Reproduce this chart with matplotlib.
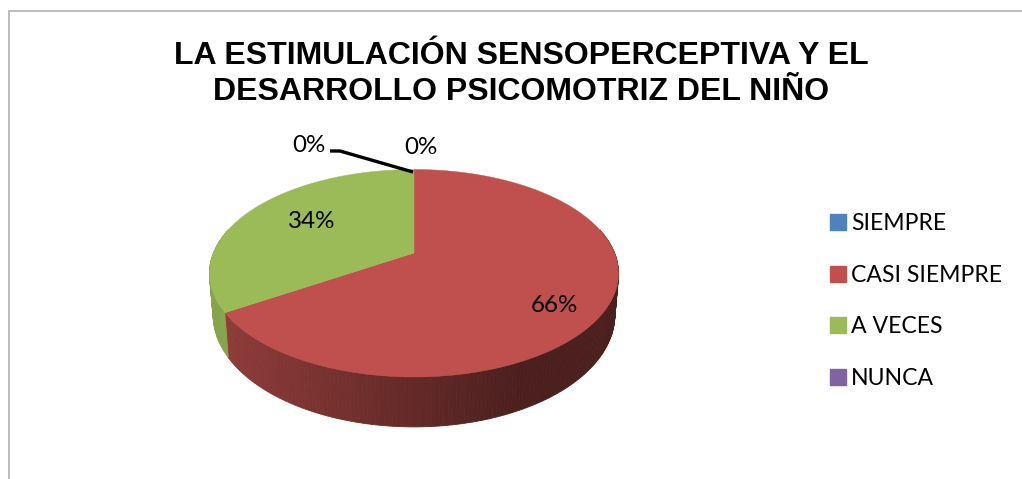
import numpy as np
import matplotlib
matplotlib.use('Agg')
import matplotlib.pyplot as plt
from matplotlib.patches import Patch, Polygon

# Datos del gráfico
categorias = ['SIEMPRE', 'CASI SIEMPRE', 'A VECES', 'NUNCA']
valores = [0, 66, 34, 0]
colores = ['#4F81BD', '#C0504D', '#9BBB59', '#8064A2']
titulo = 'LA ESTIMULACIÓN SENSOPERCEPTIVA Y EL\nDESARROLLO PSICOMOTRIZ DEL NIÑO'

# Geometría de la torta en perspectiva (píxeles)
CX, CY = 414, 253
A, B, K = 200.6, 99.8, 0.195


def borde(ang):
    """Proyecta un ángulo (grados, horario desde arriba) sobre el borde superior"""
    t = np.radians(ang)
    u, v = np.sin(t), np.cos(t)
    d = 1 + K * v
    return CX + A * u / d, CY - B * v / d


def borde_inferior(ang):
    x, y = borde(ang)
    prof = 40 + 0.08 * (y - CY)
    return CX + (x - CX) * 0.982, y + prof


def color_lado(x, color):
    """Oscurece el lateral de izquierda a derecha"""
    rgb = np.array(matplotlib.colors.to_rgb(color))
    f = np.interp(x, [225, 520], [0.74, 0.39])
    return tuple(rgb * f)


fig = plt.figure(figsize=(10.22, 4.79), dpi=100)
ax = fig.add_axes([0, 0, 1, 1])
ax.set_xlim(0, 1022)
ax.set_ylim(479, 0)
ax.axis('off')

# Marco
ax.plot([8.5, 8.5, 1022], [479, 10.5, 10.5], color='#BEBEBE', lw=1.5, solid_joinstyle='miter')

# Laterales, luego las caras
inicio = 0
lados = []
caras = []
for val, col in zip(valores, colores):
    fin = inicio + val * 3.6
    if val > 0:
        lados.append((inicio, fin, col))
        caras.append((inicio, fin, col))
    inicio = fin

for ini, fin, col in lados:
    angs = np.arange(ini, fin + 1.0, 1.0)
    angs = np.clip(angs, ini, fin)
    for a0, a1 in zip(angs[:-1], angs[1:]):
        if np.cos(np.radians((a0 + a1) / 2)) > 0.25:
            continue
        pts = [borde(a0), borde(a1), borde_inferior(a1), borde_inferior(a0)]
        x_m = (pts[0][0] + pts[1][0]) / 2
        c = color_lado(x_m, col)
        if col == colores[2]:
            c = '#87A44D'
        ax.add_patch(Polygon(pts, closed=True, fc=c, ec=c, lw=0.6))

for ini, fin, col in caras:
    angs = np.linspace(ini, fin, 300)
    pts = [(CX, CY)] + [borde(a) for a in angs]
    ax.add_patch(Polygon(pts, closed=True, fc=col, ec=col, lw=0.3))

# Línea guía de la etiqueta
ax.plot([330, 340, 413], [151, 151, 172], color='black', lw=2.4, solid_capstyle='butt')

# Etiquetas de porcentaje
fuente = 'Lato'
etiquetas = [(f'{valores[0]}%', 309, 146), (f'{valores[3]}%', 421, 148),
             (f'{valores[2]}%', 312, 221), (f'{valores[1]}%', 554, 306)]
for txt, x, y in etiquetas:
    ax.text(x, y, txt, ha='center', va='center', fontsize=17.4, family=fuente, color='black')

# Título
ax.text(521, 74, titulo, ha='center', va='center', fontsize=23, fontweight='bold',
        family='Liberation Sans', color='black', linespacing=1.295)

# Leyenda
handles = [Patch(facecolor=c, edgecolor=c, label=n) for n, c in zip(categorias, colores)]
ax.legend(handles=handles, loc='upper left', bbox_to_anchor=(830 / 1022, 1 - 213 / 479),
          frameon=False, prop={'family': fuente, 'size': 16.6}, labelspacing=1.327,
          handlelength=0.69, handleheight=0.69, handletextpad=0.22,
          borderpad=0, borderaxespad=0)

fig.savefig('out.png', dpi=100)
